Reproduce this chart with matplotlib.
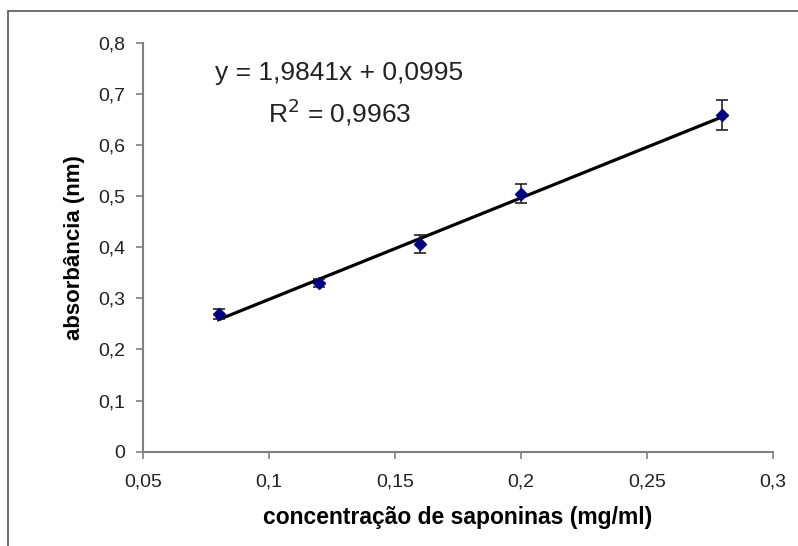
import numpy as np
import matplotlib.pyplot as plt
from matplotlib.patches import Rectangle
from matplotlib.ticker import FuncFormatter

plt.rcParams['font.family'] = ['Liberation Sans', 'DejaVu Sans']

# data
conc = [0.08, 0.12, 0.16, 0.20, 0.28]
absorb = [0.269, 0.330, 0.406, 0.505, 0.658]
err = [0.010, 0.007, 0.017, 0.018, 0.029]
slope, intercept = 1.9841, 0.0995

fig = plt.figure(figsize=(7.98, 5.46), dpi=100)
ax = fig.add_axes([0.1792, 0.1727, 0.7891, 0.7491])

# outer chart border (left/top visible, rest cropped)
fig.patches.append(Rectangle((8 / 798, -0.1), 1.2, 1 - 11 / 546 + 0.1,
                             transform=fig.transFigure, fill=False,
                             edgecolor='#555555', lw=1.2))

# linear trend line
xs = np.array([conc[0], conc[-1]])
ax.plot(xs, slope * xs + intercept, color='black', lw=2.3, zorder=2)

ax.errorbar(conc, absorb, yerr=err, fmt='D', color='#000080', ms=6.5,
            ecolor='#222222', elinewidth=1.2, capsize=4.5, capthick=1.2, zorder=3)

ax.set_xlim(0.05, 0.3)
ax.set_ylim(0, 0.8)
ax.set_xticks(np.arange(0.05, 0.301, 0.05))
ax.set_yticks(np.arange(0, 0.801, 0.1))

def comma(v, pos):
    s = f'{v:.2f}'.rstrip('0').rstrip('.')
    return s.replace('.', ',')

ax.xaxis.set_major_formatter(FuncFormatter(comma))
ax.yaxis.set_major_formatter(FuncFormatter(comma))

for side in ['top', 'right']:
    ax.spines[side].set_visible(False)
for side in ['left', 'bottom']:
    ax.spines[side].set_color('#808080')
    ax.spines[side].set_linewidth(1.5)
ax.tick_params(direction='out', length=5, width=1.2, color='#808080',
               labelsize=14, labelcolor='#222222', pad=8)
ax.tick_params(axis='x', pad=11)

ax.set_xlabel('concentração de saponinas (mg/ml)', fontsize=16.5, fontweight='bold',
              labelpad=11)
ax.set_ylabel('absorbância (nm)', fontsize=16, fontweight='bold', labelpad=9)

ax.text(0.128, 0.741, 'y = 1,9841x + 0,0995', fontsize=19, ha='center', va='center',
        color='#222222')
ax.text(0.128, 0.664, 'R$^2$ = 0,9963', fontsize=19, ha='center', va='center',
        color='#222222')

fig.savefig('out.png', dpi=100)
